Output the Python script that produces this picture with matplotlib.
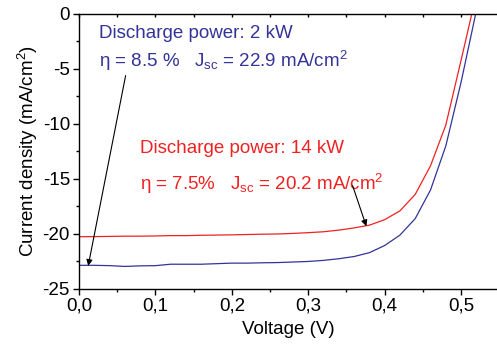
import matplotlib
matplotlib.use("Agg")
import matplotlib.pyplot as plt
from matplotlib.ticker import MultipleLocator, FixedLocator, FixedFormatter

plt.rcParams['font.family'] = ['Liberation Sans', 'DejaVu Sans']
plt.rcParams['mathtext.fontset'] = 'custom'
plt.rcParams['mathtext.rm'] = 'Liberation Sans'
plt.rcParams['mathtext.it'] = 'Liberation Sans'
plt.rcParams['axes.unicode_minus'] = False

# curvas J-V
voltaje = [0.00, 0.02, 0.04, 0.06, 0.08, 0.10, 0.12, 0.14, 0.16, 0.18,
           0.20, 0.22, 0.24, 0.26, 0.28, 0.30, 0.32, 0.34, 0.36, 0.38,
           0.40, 0.42, 0.44, 0.46, 0.48, 0.50, 0.52]
j_2kw = [-22.85, -22.85, -22.88, -22.95, -22.90, -22.88, -22.75, -22.75, -22.75, -22.70,
         -22.65, -22.65, -22.62, -22.60, -22.55, -22.50, -22.40, -22.25, -22.05, -21.70,
         -21.05, -20.10, -18.60, -16.00, -12.00, -6.20, 0.30]
j_14kw = [-20.25, -20.24, -20.22, -20.20, -20.20, -20.18, -20.15, -20.15, -20.12, -20.10,
          -20.08, -20.05, -20.02, -20.00, -19.95, -19.88, -19.80, -19.65, -19.45, -19.20,
          -18.70, -17.90, -16.40, -13.80, -10.10, -4.20, 1.80]

xticks = [0.0, 0.1, 0.2, 0.3, 0.4, 0.5]
xtick_labels = ["0,0", "0,1", "0,2", "0,3", "0,4", "0,5"]
yticks = [0, -5, -10, -15, -20, -25]

AZUL = "#333399"
ROJO = "#ee2222"

fig = plt.figure(figsize=(4.97, 3.49), dpi=100)
ax = fig.add_axes([0.159, 0.172, 0.841, 0.788])

ax.plot(voltaje, j_2kw, color=AZUL, lw=0.9)
ax.plot(voltaje, j_14kw, color=ROJO, lw=0.9)

ax.set_xlim(0, 0.547)
ax.set_ylim(-25, 0)

ax.xaxis.set_major_locator(FixedLocator(xticks))
ax.xaxis.set_major_formatter(FixedFormatter(xtick_labels))
ax.xaxis.set_minor_locator(MultipleLocator(0.05))
ax.set_yticks(yticks)
ax.yaxis.set_minor_locator(MultipleLocator(2.5))

ax.spines['right'].set_visible(False)
for s in ['left', 'bottom', 'top']:
    ax.spines[s].set_linewidth(1.0)

ax.tick_params(axis='both', which='major', labelsize=13.5, length=4, width=1.0,
               direction='out', pad=2.5)
ax.tick_params(axis='both', which='minor', length=2.5, width=1.0, direction='out')
ax.tick_params(axis='y', right=False, which='both')

# ticks superiores hacia dentro
sec = ax.secondary_xaxis('top')
sec.xaxis.set_major_locator(MultipleLocator(0.05))
sec.tick_params(direction='in', length=2.5, width=1.0, labeltop=False)
sec.spines['top'].set_visible(False)

ax.set_xlabel("Voltage (V)", fontsize=13.5, labelpad=4)
ax.set_ylabel("Current density (mA/cm$^2$)", fontsize=13.5, labelpad=2)

ax.text(0.026, -1.75, "Discharge power: 2 kW", color=AZUL, fontsize=13.5, va='center')
ax.text(0.026, -4.25, "η = 8.5 %   J$_{\\rm sc}$ = 22.9 mA/cm$^2$", color=AZUL, fontsize=13.5, va='center')
ax.text(0.08, -12.2, "Discharge power: 14 kW", color=ROJO, fontsize=13.5, va='center')
ax.text(0.08, -15.45, "η = 7.5%   J$_{\\rm sc}$ = 20.2 mA/cm$^2$", color=ROJO, fontsize=13.5, va='center')

ax.annotate("", xy=(0.012, -22.9), xytext=(0.061, -5.6),
            arrowprops=dict(arrowstyle='-|>', color='black', lw=0.8,
                            mutation_scale=9, shrinkA=0, shrinkB=0))
ax.annotate("", xy=(0.376, -19.3), xytext=(0.358, -15.6),
            arrowprops=dict(arrowstyle='-|>', color='black', lw=0.8,
                            mutation_scale=9, shrinkA=0, shrinkB=0))

fig.savefig("out.png", dpi=100)
